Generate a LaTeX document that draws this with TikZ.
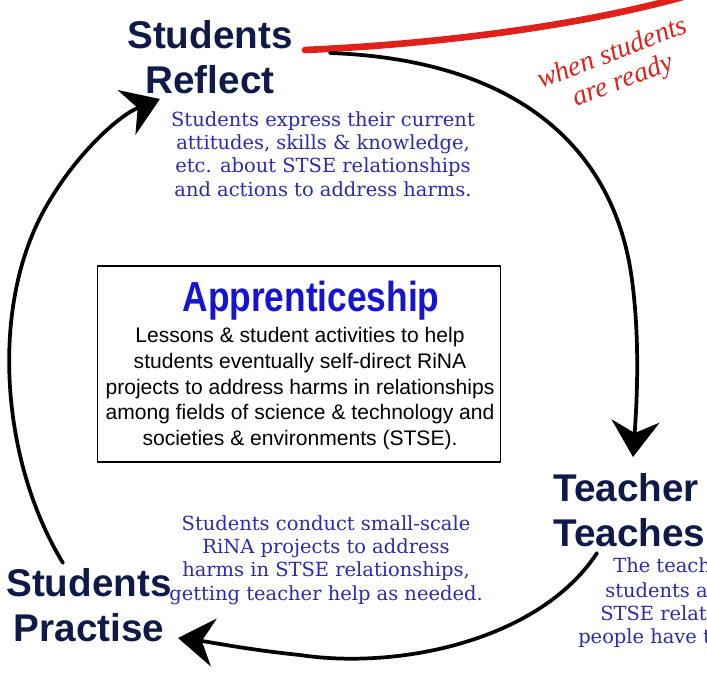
\documentclass[tikz,border=0pt]{standalone}
\usepackage{fontspec}
\setmainfont{Liberation Sans}
\newfontfamily\notefont{DejaVu Serif}
\newfontfamily\handfont{Liberation Serif}
\usetikzlibrary{arrows.meta}

\definecolor{headnavy}{HTML}{101A48}
\definecolor{noteblue}{HTML}{2B2BB0}
\definecolor{titleblue}{HTML}{1414D2}
\definecolor{brushred}{HTML}{E0201B}

\tikzset{
  stage/.style={inner sep=0pt, text=headnavy, font=\fontsize{29}{33.75}\selectfont\bfseries},
  note/.style={inner sep=0pt, text=noteblue, align=center, font=\notefont\fontsize{14.6}{17.5}\selectfont},
  brush/.style={line width=2.8pt, line cap=round, -{Stealth[length=27pt, width=36pt, inset=9pt]}},
}

\begin{document}
\begin{tikzpicture}[x=0.75pt, y=-0.75pt]
  \useasboundingbox (0,0) rectangle (707,675);
  \clip (0,0) rectangle (707,675);

  % the three stages
  \node[stage, anchor=north, align=center] (reflect) at (210,20) {Students\\Reflect};
  \node[stage, anchor=north west, align=left] (teaches) at (553,473) {Teacher\\Teaches};
  \node[stage, anchor=north, align=center] (practise) at (89,568) {Students\\Practise};

  % what happens in each stage
  \node[note, anchor=north] (reflectnote) at (323,111)
    {Students express their current\\attitudes, skills \& knowledge,\\etc. about STSE relationships\\and actions to address harms.};
  \node[note, anchor=north] (practisenote) at (326,515)
    {Students conduct small-scale\\RiNA projects to address\\harms in STSE relationships,\\getting teacher help as needed.};
  \foreach \n/\x/\y/\t in {t1/613/572/The teach, t2/605/597/students a,
                           t3/600/620/STSE relat, t4/578/643/people have t}
    \node[note, anchor=base west] (\n) at (\x,\y) {\t};

  % centre box
  \node[draw, line width=1pt, minimum width=302pt, minimum height=147pt] (box) at (299,364) {};
  \node[anchor=base, inner sep=0pt, xscale=0.84, text=titleblue,
        font=\fontsize{31.5}{36}\selectfont\bfseries] (title) at (311,311) {Apprenticeship};
  \node[anchor=north, inner sep=0pt, align=center, font=\fontsize{15.8}{19.3}\selectfont] (boxtext) at (300,327)
    {Lessons \& student activities to help\\students eventually self-direct RiNA\\projects to address harms in relationships\\among fields of science \& technology and\\societies \& environments (STSE).};

  % red shortcut
  \coordinate (r0) at (305,50);
  \coordinate (r1) at (700,-8);
  \draw[brushred, line width=5pt, line cap=round] (r0) .. controls (440,44) and (590,25) .. (r1);
  \node[rotate=21, text=brushred, align=center, inner sep=0pt,
        font=\handfont\itshape\fontsize{21}{22}\selectfont] (ready) at (618,68) {when students\\are ready};

  % cycle arrows
  \coordinate (a0) at (330,53);
  \coordinate (a1) at (633,457);
  \draw[brush] (a0) .. controls (520,60) and (615,150) .. (632,280) .. controls (640,340) and (637,400) .. (a1);
  \coordinate (b0) at (597,553);
  \coordinate (b1) at (178,638);
  \draw[brush] (b0) .. controls (540,640) and (400,670) .. (300,655) .. controls (250,650) and (210,642) .. (b1);
  \coordinate (c0) at (63,563);
  \coordinate (c1) at (160,99);
  \draw[brush] (c0) .. controls (0,460) and (-12,300) .. (50,200) .. controls (80,150) and (120,115) .. (c1);
\end{tikzpicture}
\end{document}
